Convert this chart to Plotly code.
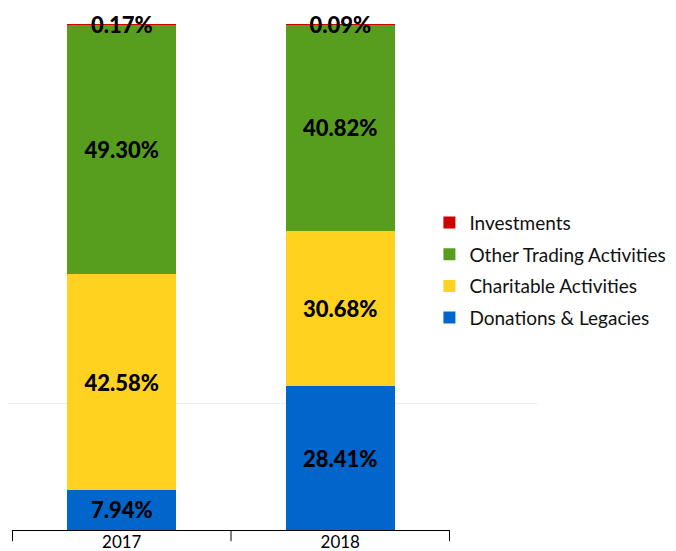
import plotly.graph_objects as go

years = ["2017", "2018"]
donations = [7.94, 28.41]
charitable = [42.58, 30.68]
other_trading = [49.30, 40.82]
investments = [0.17, 0.09]

series = [
    ("Donations & Legacies", donations, "#0066CC", 4),
    ("Charitable Activities", charitable, "#FFD21F", 3),
    ("Other Trading Activities", other_trading, "#589E1E", 2),
    ("Investments", investments, "#D00000", 1),
]

FONT = "Lato"
fig = go.Figure()
for name, vals, color, rank in series:
    fig.add_trace(go.Bar(
        x=years, y=vals, name=name, marker=dict(color=color, line=dict(width=0)),
        width=0.5,
        text=[f"{v:.2f}%" for v in vals],
        textposition="inside", insidetextanchor="middle",
        constraintext="none", textangle=0,
        textfont=dict(family=FONT, size=22, color="black", weight=900),
        insidetextfont=dict(family=FONT, size=22, color="black", weight=900),
        cliponaxis=False,
        legendgroup=name, legendrank=rank,
    ))

# axis boundary ticks
for xb in [-0.5, 0.5, 1.5]:
    fig.add_shape(type="line", xref="x", yref="paper", x0=xb, x1=xb, y0=0, y1=-0.022,
                  line=dict(color="black", width=1))
# faint gridline
fig.add_shape(type="line", xref="paper", yref="y", x0=-0.03, x1=1.2, y0=25, y1=25,
              line=dict(color="#EEEEEE", width=1), layer="below")

# page body has an 8px margin; figure is sized to fit the window from (8,8)
fig.update_layout(
    width=668, height=543,
    margin=dict(l=4, r=226, t=16, b=21, autoexpand=False),
    barmode="stack",
    plot_bgcolor="white", paper_bgcolor="white",
    font=dict(family=FONT, size=18, color="black"),
    showlegend=True,
    legend=dict(x=0.953, y=0.645, xanchor="left", yanchor="top",
                traceorder="grouped", tracegroupgap=4,
                font=dict(family=FONT, size=19, color="#111111"),
                itemwidth=30),
    xaxis=dict(type="category", showline=True, linecolor="black", linewidth=1,
               ticks="", showgrid=False, tickfont=dict(family=FONT, size=17, color="black"),
               ticklabelstandoff=-3,
               fixedrange=True),
    yaxis=dict(range=[0, 100], visible=False, showgrid=False, fixedrange=True),
)

fig.write_html("out.html")
